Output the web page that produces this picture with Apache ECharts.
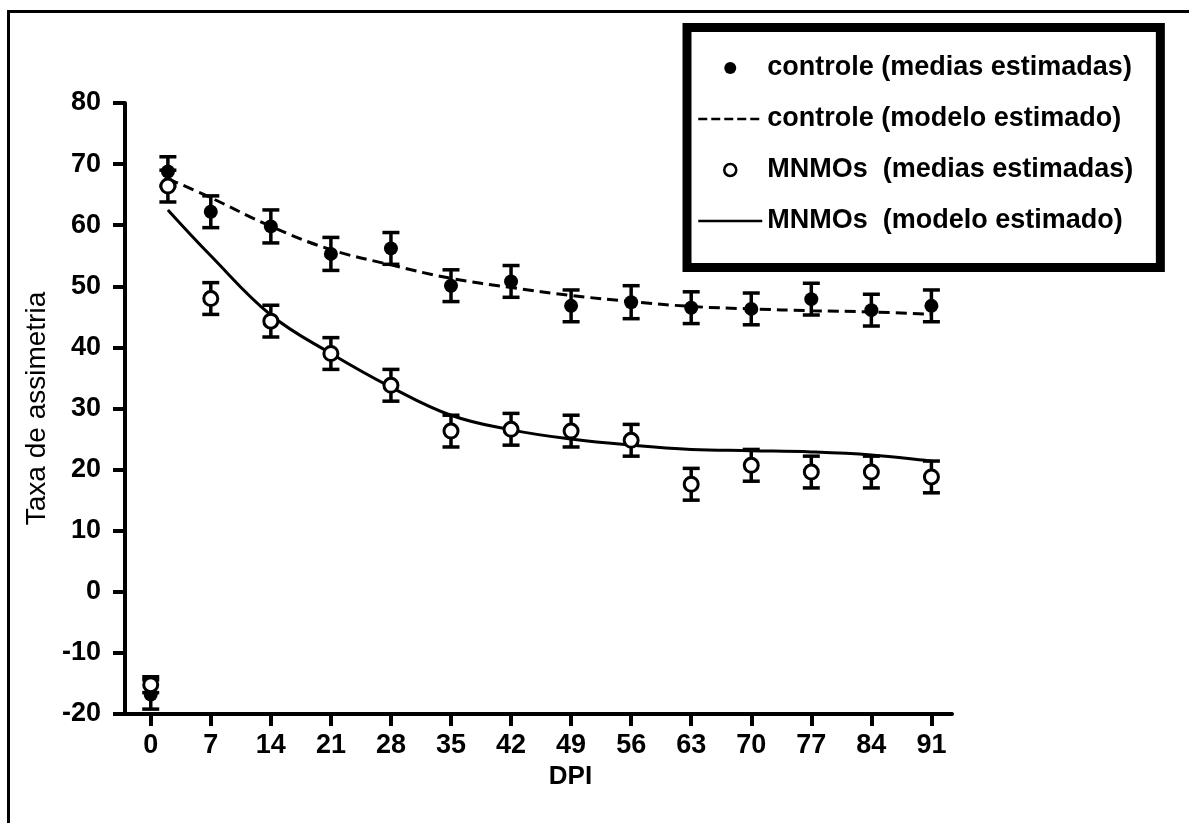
<!DOCTYPE html>
<html>
<head>
<meta charset="utf-8">
<script src="https://cdn.jsdelivr.net/npm/echarts@6/dist/echarts.min.js"></script>
<style>
  html, body { margin: 0; padding: 0; background: #fff; }
  #chart { width: 1189px; height: 823px; }
</style>
</head>
<body>
<div id="chart"></div>
<script>
// Days post injury (DPI) at which group means were estimated
const days = [0, 2, 7, 14, 21, 28, 35, 42, 49, 56, 63, 70, 77, 84, 91];
// Estimated means and standard errors
const controleMean = [-16.8, 68.8, 62.2, 59.8, 55.3, 56.2, 50.1, 50.8, 46.8, 47.4, 46.5, 46.3, 47.9, 46.1, 46.8];
const controleErr  = [2.4, 2.4, 2.6, 2.7, 2.7, 2.6, 2.6, 2.6, 2.6, 2.7, 2.6, 2.6, 2.6, 2.6, 2.6];
const mnmosMean    = [-15.2, 66.4, 48.0, 44.3, 39.0, 33.8, 26.3, 26.6, 26.3, 24.8, 17.6, 20.7, 19.6, 19.6, 18.8];
const mnmosErr     = [1.3, 2.6, 2.6, 2.6, 2.6, 2.6, 2.6, 2.6, 2.6, 2.6, 2.6, 2.6, 2.6, 2.6, 2.6];

// Fitted model curves
const modelDays     = [2, 7, 14, 21, 28, 35, 42, 49, 56, 63, 70, 77, 84, 91];
const controleModel = [67.6, 64.5, 59.8, 56.0, 53.5, 51.3, 49.8, 48.5, 47.5, 46.7, 46.3, 46.0, 45.8, 45.4];
const mnmosModel    = [62.5, 55.0, 45.3, 39.0, 33.5, 28.9, 26.5, 25.0, 24.0, 23.3, 23.1, 22.9, 22.4, 21.4];

// Axis ticks
const xTicks = [0, 7, 14, 21, 28, 35, 42, 49, 56, 63, 70, 77, 84, 91];

const names = [
  'controle (medias estimadas)',
  'controle (modelo estimado)',
  'MNMOs  (medias estimadas)',
  'MNMOs  (modelo estimado)'
];

const FONT = '"Liberation Sans", Arial, sans-serif';

const zip = (xs, ys) => xs.map((x, i) => [x, ys[i]]);
const zip3 = (xs, ys, es) => xs.map((x, i) => [x, ys[i], es[i]]);

function errorBar(params, api) {
  const x = api.value(0), m = api.value(1), e = api.value(2);
  const top = api.coord([x, m + e]);
  const bot = api.coord([x, m - e]);
  const hw = 8.5;
  const style = { stroke: '#000', lineWidth: 3.5, fill: null };
  return {
    type: 'group',
    children: [
      { type: 'line', shape: { x1: top[0], y1: top[1], x2: bot[0], y2: bot[1] }, style },
      { type: 'line', shape: { x1: top[0] - hw, y1: top[1], x2: top[0] + hw, y2: top[1] }, style },
      { type: 'line', shape: { x1: bot[0] - hw, y1: bot[1], x2: bot[0] + hw, y2: bot[1] }, style }
    ]
  };
}

const chart = echarts.init(document.getElementById('chart'), null, { renderer: 'canvas' });

chart.setOption({
  animation: false,
  backgroundColor: '#fff',
  grid: { left: 125, right: 237, top: 103, bottom: 109, containLabel: false },
  xAxis: {
    type: 'value',
    min: -3,
    max: 93.4,
    name: 'DPI',
    nameLocation: 'middle',
    nameGap: 48,
    nameTextStyle: { fontFamily: FONT, fontSize: 26, fontWeight: 'bold', color: '#000', padding: [0, 0, 0, 64] },
    axisLine: { show: true, onZero: false, lineStyle: { color: '#000', width: 4 } },
    axisTick: { show: true, customValues: xTicks, length: 12, lineStyle: { color: '#000', width: 4 } },
    axisLabel: { customValues: xTicks, fontFamily: FONT, fontSize: 27, fontWeight: 'bold', color: '#000', margin: 18 },
    splitLine: { show: false }
  },
  yAxis: {
    type: 'value',
    min: -20,
    max: 80,
    interval: 10,
    name: 'Taxa de assimetria',
    nameLocation: 'middle',
    nameGap: 64,
    nameTextStyle: { fontFamily: FONT, fontSize: 28, color: '#000' },
    axisLine: { show: true, onZero: false, lineStyle: { color: '#000', width: 4 } },
    axisTick: { show: true, length: 12, lineStyle: { color: '#000', width: 4 } },
    axisLabel: { fontFamily: FONT, fontSize: 27, fontWeight: 'bold', color: '#000', margin: 24 },
    splitLine: { show: false }
  },
  legend: {
    orient: 'vertical',
    left: 687,
    top: 27.5,
    padding: [27, 27, 33, 10],
    itemWidth: 64,
    itemHeight: 12,
    itemGap: 24,
    selectedMode: false,
    backgroundColor: '#fff',
    borderColor: '#000',
    borderWidth: 9,
    textStyle: { fontFamily: FONT, fontSize: 27, fontWeight: 'bold', color: '#000' },
    data: [
      { name: names[0], icon: 'circle', itemStyle: { color: '#000', borderWidth: 0, opacity: 1 } },
      { name: names[1], itemStyle: { color: 'rgba(0,0,0,0)', borderWidth: 0 },
        lineStyle: { color: '#000', width: 2.5, type: [9, 4] } },
      { name: names[2], icon: 'circle', itemStyle: { color: '#fff', borderColor: '#000', borderWidth: 2.5, opacity: 1 } },
      { name: names[3], itemStyle: { color: 'rgba(0,0,0,0)', borderWidth: 0 },
        lineStyle: { color: '#000', width: 2.5, type: 'solid' } }
    ]
  },
  series: [
    {
      name: names[1],
      type: 'line',
      data: zip(modelDays, controleModel),
      smooth: 0.4,
      symbol: 'none',
      itemStyle: { color: 'rgba(0,0,0,0)' },
      lineStyle: { color: '#000', width: 3, type: [11, 6] },
      z: 2
    },
    {
      name: names[3],
      type: 'line',
      data: zip(modelDays, mnmosModel),
      smooth: 0.4,
      symbol: 'none',
      itemStyle: { color: 'rgba(0,0,0,0)' },
      lineStyle: { color: '#000', width: 3 },
      z: 2
    },
    {
      name: 'controle EP',
      type: 'custom',
      renderItem: errorBar,
      data: zip3(days, controleMean, controleErr),
      encode: { x: 0, y: 1 },
      clip: false,
      z: 3
    },
    {
      name: names[0],
      type: 'scatter',
      data: zip(days, controleMean),
      symbol: 'circle',
      symbolSize: 14,
      itemStyle: { color: '#000', opacity: 1 },
      z: 4
    },
    {
      name: 'MNMOs EP',
      type: 'custom',
      renderItem: errorBar,
      data: zip3(days, mnmosMean, mnmosErr),
      encode: { x: 0, y: 1 },
      clip: false,
      z: 5
    },
    {
      name: names[2],
      type: 'scatter',
      data: zip(days, mnmosMean),
      symbol: 'circle',
      symbolSize: 14,
      itemStyle: { color: '#fff', borderColor: '#000', borderWidth: 3, opacity: 1 },
      z: 6
    }
  ],
  graphic: [
    // page frame: top and left rules
    { type: 'line', shape: { x1: 7, y1: 11.5, x2: 1189, y2: 11.5 }, style: { stroke: '#000', lineWidth: 3 }, silent: true },
    { type: 'line', shape: { x1: 8.5, y1: 10, x2: 8.5, y2: 823 }, style: { stroke: '#000', lineWidth: 3 }, silent: true }
  ]
});
</script>
</body>
</html>
